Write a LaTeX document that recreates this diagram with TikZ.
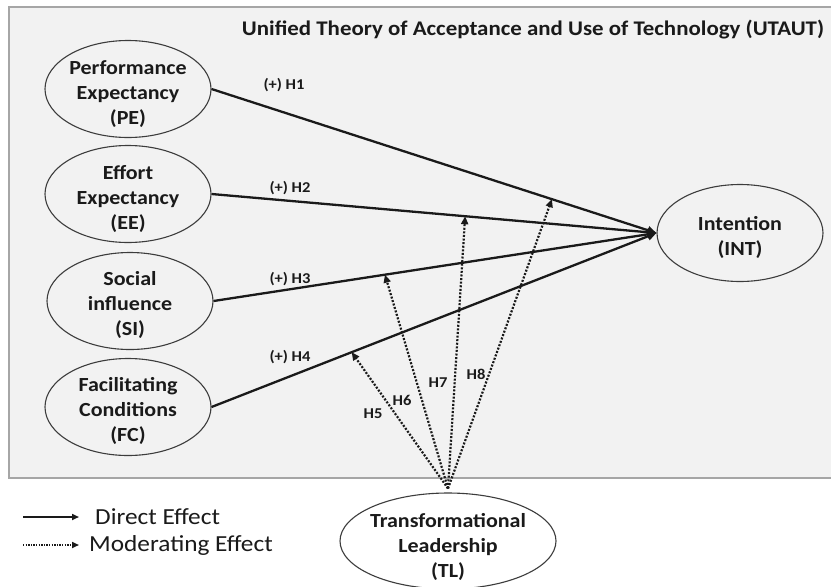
\documentclass[tikz,border=0pt]{standalone}
\usepackage{fontspec}
\setmainfont{Carlito}[FakeStretch=1.1]
\usetikzlibrary{shapes.geometric,arrows.meta,calc}
\definecolor{boxfill}{HTML}{F2F2F2}
\definecolor{boxline}{HTML}{A6A6A6}
\definecolor{ink}{HTML}{1A1A1A}
\begin{document}
\begin{tikzpicture}[x=1pt,y=-1pt,
  construct/.style={ellipse,draw=ink!85,line width=1.1pt,minimum width=166pt,minimum height=97pt,inner sep=0pt},
  ctext/.style={inner sep=0pt,align=center,text=ink,font=\fontsize{20}{25}\selectfont\bfseries},
  hyp/.style={font=\fontsize{15}{18}\selectfont\bfseries,text=ink,inner sep=0pt},
  direct/.style={draw=ink,line width=2.3pt,-{Triangle[length=9pt,width=8pt]}},
  moder/.style={draw=ink,line width=2.2pt,dash pattern=on 2pt off 1.6pt,-{Triangle[length=8pt,width=7pt]}},
  legtext/.style={font=\fontsize{23}{28}\selectfont,text=ink,anchor=west,inner sep=0pt}]
\useasboundingbox (0,0) rectangle (831,587);
\fill[white] (0,0) rectangle (831,587);
\draw[fill=boxfill,draw=boxline,line width=1.5pt] (9,7) rectangle (833,478);
\node[font=\fontsize{20.8}{24}\selectfont\bfseries,text=ink] (title) at (533,30) {Unified Theory of Acceptance and Use of Technology (UTAUT)};
\node[construct] (PE) at (128,89) {};
\node[construct] (EE) at (128,194) {};
\node[construct] (SI) at (130,301) {};
\node[construct] (FC) at (128,407) {};
\node[construct] (INT) at (740,233) {};
\node[construct,fill=white,minimum width=216pt,minimum height=96pt] (TL) at (448,541) {};
\node[ctext] (PEt) at ($(PE.center)+(0,5)$) {Performance\\Expectancy\\(PE)};
\node[ctext] (EEt) at ($(EE.center)+(0,5)$) {Effort\\Expectancy\\(EE)};
\node[ctext] (SIt) at ($(SI.center)+(0,4)$) {Social\\influence\\(SI)};
\node[ctext] (FCt) at ($(FC.center)+(0,4)$) {Facilitating\\Conditions\\(FC)};
\node[ctext] (INTt) at ($(INT.center)+(0,4)$) {Intention\\(INT)};
\node[ctext] (TLt) at ($(TL.center)+(0,6)$) {Transformational\\Leadership\\(TL)};
\draw[direct] (PE.east) -- (INT.west);
\draw[direct] (EE.east) -- (INT.west);
\draw[direct] (SI.east) -- (INT.west);
\draw[direct] (FC.east) -- (INT.west);
\coordinate (t8) at ($(PE.east)!0.765!(INT.west)$);
\coordinate (t7) at ($(EE.east)!0.57!(INT.west)$);
\coordinate (t6) at ($(SI.east)!0.387!(INT.west)$);
\coordinate (t5) at ($(FC.east)!0.315!(INT.west)$);
\coordinate (src) at ($(TL.north)+(0,-4)$);
\draw[moder] (src) -- (t5);
\draw[moder] (src) -- (t6);
\draw[moder] (src) -- (t7);
\draw[moder] (src) -- (t8);
\node[hyp] (h1) at (284,85) {(+) H1};
\node[hyp] (h2) at (290,188) {(+) H2};
\node[hyp] (h3) at (290,279) {(+) H3};
\node[hyp] (h4) at (290,357) {(+) H4};
\node[hyp] (h5) at (373,414) {H5};
\node[hyp] (h6) at (402,400) {H6};
\node[hyp] (h7) at (438,383) {H7};
\node[hyp] (h8) at (476,374) {H8};
\coordinate (la1) at (23,517);
\coordinate (la2) at (79,517);
\coordinate (lb1) at (23,545);
\coordinate (lb2) at (79,545);
\draw[draw=ink,line width=1.6pt,-{Triangle[length=7pt,width=6pt]}] (la1) -- (la2);
\draw[draw=ink,line width=1.6pt,dash pattern=on 1.4pt off 1.2pt,-{Triangle[length=7pt,width=6pt]}] (lb1) -- (lb2);
\node[legtext] (l1) at (95,517) {Direct Effect};
\node[legtext] (l2) at (89,545) {Moderating Effect};
\end{tikzpicture}
\end{document}
